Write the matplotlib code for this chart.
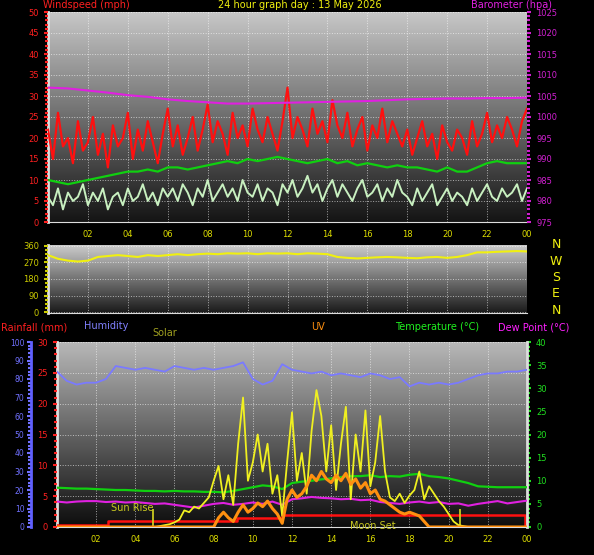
import numpy as np
import matplotlib
matplotlib.use("Agg")
import matplotlib.pyplot as plt
from matplotlib.ticker import MultipleLocator

gust = [22,15,26,18,20,14,24,17,19,25,16,21,13,23,18,20,26,15,22,17,24,19,14,21,
        27,18,23,16,20,25,17,22,28,19,24,21,16,26,20,23,18,27,22,19,25,21,17,24,
        32,20,25,22,18,27,21,24,19,29,23,20,26,18,22,25,17,23,20,27,19,24,21,18,
        22,16,20,24,18,21,15,23,19,17,22,20,16,24,18,21,26,19,23,20,25,22,18,24,27]
speed = [6,4,8,3,7,5,6,9,4,7,5,8,3,6,7,4,8,5,6,9,5,7,4,8,
         6,8,5,9,7,4,8,6,10,5,7,9,6,8,5,10,7,6,9,5,8,7,4,9,
         7,10,6,8,11,7,9,5,8,10,6,9,7,5,8,10,6,7,9,5,8,6,10,7,
         6,4,8,5,7,9,4,6,8,5,7,6,4,8,5,7,9,6,5,8,6,7,9,5,8]
avg = [10,9.5,9,9.5,10,10.5,11,11.5,12,12,12.5,12,13,13,12.5,13,13.5,14,14.5,14,
       15,14.5,15,15.5,15,14.5,14,14.5,15,14,14.5,13.5,14,13.5,13,13.5,13,13,12.5,12,
       13,12,12,13,14,14.5,14,14,14]
baro = [1007,1006.8,1006.3,1005.8,1005.2,1004.8,1004.2,1003.8,1003.5,1003.2,1003.2,1003.3,
        1003.4,1003.5,1003.6,1003.7,1003.8,1004,1004.2,1004.3,1004.4,1004.4,1004.5,1004.5,1004.6]
wdir = [310,290,280,275,280,300,305,310,305,300,310,305,310,315,310,315,318,315,320,318,
        320,315,320,318,320,315,320,318,315,300,295,292,295,298,300,298,295,293,298,300,
        295,300,310,325,325,328,330,332,330]
hum = [84,79,77,78,78,80,87,86,85,86,85,84,87,86,85,86,85,86,87,89,80,77,79,88,85,
       84,83,84,82,83,82,81,83,82,80,81,76,78,77,78,77,78,80,82,83,83,84,84,85]
temp = [8.5,8.4,8.3,8.3,8.2,8.1,8.0,8.0,7.9,7.8,7.8,7.7,7.8,7.7,7.7,7.6,7.6,7.5,7.8,8.2,
        8.6,9.0,8.8,8.2,9.5,9.8,10.0,10.3,10.5,10.8,11.0,11.0,11.2,10.8,11.0,10.9,11.3,11.5,
        11.0,10.8,10.5,10.0,9.5,8.8,8.7,8.6,8.6,8.6,8.6]
dew = [5.5,5.3,5.5,5.6,5.6,5.4,5.5,5.3,5.4,5.2,5.0,5.1,4.8,4.5,4.2,4.6,5.0,5.2,4.8,5.0,
       5.3,5.0,5.5,4.8,6.0,6.2,6.5,6.3,6.2,6.0,6.1,5.8,5.9,5.4,5.2,5.0,5.3,5.5,5.2,5.4,
       5.0,5.1,4.6,5.0,5.3,5.6,5.1,5.4,5.7]
solar = [0,0,0,0,0,0,0,0,0,0,0,0,0,0,0,0,0,0,0,0,
         0,5,10,15,25,40,90,80,110,100,130,160,250,330,150,280,120,450,700,250,
         350,500,300,450,180,280,60,350,620,250,400,180,520,740,600,300,550,200,450,650,
         150,500,300,630,220,350,600,300,160,140,180,130,170,200,300,150,220,180,140,110,
         70,30,10,5,0,
         0,0,0,0,0,0,0,0,0,0,0,0]
uv = [0,0,0,0,0,0,0,0,0,0,0,0,0,0,0,0,0,0,0,0,0,0,0,0,0,0,0,0,0,0,0,0,0,
      0.5,0.8,0.5,0.3,0.8,1.2,0.8,1.0,1.3,1.1,1.4,1.0,0.7,0.2,1.5,2.0,1.6,1.8,2.2,2.8,
      2.5,3.0,2.6,2.4,2.8,2.5,2.9,2.3,2.6,2.1,2.4,1.8,2.0,1.5,1.4,1.2,1.0,0.8,0.7,0.8,
      0.7,0.6,0.3,
      0,0,0,0,0,0,0,0,0,0,0,0,0,0,0,0,0,0,0,0,0]
rain_t = [0, 2.6, 9.2, 11.5, 23.9, 24]
rain_v = [0.3, 0.9, 1.4, 1.9, 0, 0]
events_t = [4.9, 20.6]
hour_ticks = list(range(2, 25, 2))
hour_labels = ["%02d" % (h % 24) for h in hour_ticks]

t97 = np.linspace(0, 24, 97)
t49 = np.linspace(0, 24, 49)
t25 = np.linspace(0, 24, 25)

fig = plt.figure(figsize=(5.94, 5.55), dpi=100, facecolor="black")
W, H = 594, 555
def axpos(x0, y0, x1, y1):
    return [x0 / W, 1 - y1 / H, (x1 - x0) / W, (y1 - y0) / H]

grad = np.linspace(0, 1, 256).reshape(-1, 1)
def bg(ax, top, bot):
    vals = bot + (top - bot) * grad
    rgb = np.repeat(vals[:, :, None], 3, axis=2)
    ax.imshow(rgb, extent=[0, 1, 0, 1], transform=ax.transAxes, aspect="auto",
              origin="lower", zorder=0)

def style(ax):
    ax.set_facecolor("black")
    for s in ax.spines.values():
        s.set_visible(False)
    ax.spines["left"].set_visible(True)
    ax.spines["left"].set_color("#dddddd")
    ax.spines["left"].set_linewidth(2)
    ax.spines["bottom"].set_visible(True)
    ax.spines["bottom"].set_color("#dddddd")
    ax.grid(True, color="white", linestyle=":", linewidth=0.7, alpha=0.6)
    ax.set_axisbelow(False)

# ---- top panel
ax1 = fig.add_axes(axpos(48, 12, 527, 222))
style(ax1)
bg(ax1, 0.78, 0.08)
ax1.set_xlim(0, 24)
ax1.set_ylim(0, 50)
ax1.plot(t97, gust, color="#ff1010", lw=1.6, zorder=3)
ax1.plot(t97, speed, color="#c8f0c0", lw=1.4, zorder=4)
ax1.plot(t49, avg, color="#10d010", lw=1.6, zorder=5)
ax1b = ax1.twinx()
ax1b.set_ylim(975, 1025)
for s in ax1b.spines.values():
    s.set_visible(False)
ax1b.plot(t25, baro, color="#e020e0", lw=1.5, zorder=6)
ax1.set_xticks(hour_ticks)
ax1.set_xticklabels(hour_labels)
ax1.set_yticks(range(0, 51, 5))
ax1.yaxis.set_minor_locator(MultipleLocator(1))
ax1.tick_params(axis="y", colors="#ff2020", labelsize=6, length=3, width=1.5)
ax1.tick_params(axis="y", which="minor", colors="#ff2020", length=2, width=1.5)
ax1.tick_params(axis="x", colors="#dddd00", labelsize=6, length=0, pad=6)
ax1b.set_yticks(range(975, 1026, 5))
ax1b.yaxis.set_minor_locator(MultipleLocator(1))
ax1b.tick_params(axis="y", colors="#d020d0", labelsize=6, length=3, width=1.5)
ax1b.tick_params(axis="y", which="minor", colors="#d020d0", length=2, width=1.5)

# ---- middle panel
ax2 = fig.add_axes(axpos(48, 245, 527, 313))
style(ax2)
bg(ax2, 0.8, 0.1)
ax2.set_xlim(0, 24)
ax2.set_ylim(-5, 365)
ax2.plot(t49, wdir, color="#f0f010", lw=1.5, zorder=3)
ax2.set_yticks([0, 90, 180, 270, 360])
ax2.yaxis.set_minor_locator(MultipleLocator(22.5))
ax2.set_xticks(hour_ticks)
ax2.set_xticklabels([])
ax2.tick_params(axis="y", colors="#cccc00", labelsize=6, length=3, width=1.5)
ax2.tick_params(axis="y", which="minor", colors="#cccc00", length=2, width=1.5)
ax2.tick_params(axis="x", length=0)
for i, lab in enumerate(["N", "W", "S", "E", "N"]):
    fig.text(556 / W, 1 - (245 + i * 16.3) / H, lab, color="#f0f010", fontsize=9,
             ha="center", va="center")

# ---- bottom panel
ax3 = fig.add_axes(axpos(57, 342, 527, 527))
style(ax3)
bg(ax3, 0.72, 0.05)
ax3.set_xlim(0, 24)
ax3.set_ylim(0, 30)
ax3.set_yticks(range(0, 31, 5))
ax3.yaxis.set_minor_locator(MultipleLocator(1))
ax3.tick_params(axis="y", colors="#ff2020", labelsize=6, length=3, width=1.5)
ax3.tick_params(axis="y", which="minor", colors="#ff2020", length=2, width=1.5)
ax3.set_xticks(hour_ticks)
ax3.set_xticklabels(hour_labels)
ax3.tick_params(axis="x", colors="#dddd00", labelsize=6, length=0, pad=6)

axT = ax3.twinx()
axT.set_ylim(0, 40)
for s in axT.spines.values():
    s.set_visible(False)
axT.spines["right"].set_visible(True)
axT.spines["right"].set_color("#dddddd")
axT.spines["right"].set_linewidth(2)
axT.set_yticks(range(0, 41, 5))
axT.yaxis.set_minor_locator(MultipleLocator(1))
axT.tick_params(axis="y", colors="#20e020", labelsize=6, length=3, width=1.5)
axT.tick_params(axis="y", which="minor", colors="#20e020", length=2, width=1.5)

axS = ax3.twinx(); axS.set_ylim(0, 1000); axS.axis("off")
axU = ax3.twinx(); axU.set_ylim(0, 10); axU.axis("off")
axH = ax3.twinx(); axH.set_ylim(0, 100)
for s in axH.spines.values():
    s.set_visible(False)
axH.spines["left"].set_visible(True)
axH.spines["left"].set_position(("outward", 19))
axH.spines["left"].set_color("#6060ff")
axH.spines["left"].set_linewidth(2)
axH.yaxis.set_ticks_position("left")
axH.yaxis.set_label_position("left")
axH.set_yticks(range(0, 101, 10))
axH.yaxis.set_minor_locator(MultipleLocator(2))
axH.tick_params(axis="y", colors="#7070ff", labelsize=5.5, length=3, width=1.5, pad=1.5)
axH.tick_params(axis="y", which="minor", colors="#7070ff", length=2, width=1.5)

axS.plot(t97, solar, color="#f0f020", lw=1.3, zorder=3)
axS.vlines(events_t, 0, 95, color="#d8d820", lw=1.2)
axU.plot(t97, uv, color="#ff9010", lw=2.2, zorder=4)
axT.plot(t49, temp, color="#10d010", lw=1.6, zorder=5)
axT.plot(t49, dew, color="#e020e0", lw=1.5, zorder=5)
axH.plot(t49, hum, color="#7a7aff", lw=1.3, zorder=5)
ax3.plot(rain_t, rain_v, color="#ff1010", lw=1.8, drawstyle="steps-post", zorder=6)

fig.text(132 / W, 1 - 508 / H, "Sun Rise", color="#c8c820", fontsize=7, ha="center", va="center")
fig.text(373 / W, 1 - 526 / H, "Moon Set", color="#c8c820", fontsize=7, ha="center", va="center")

# ---- titles
fs = 7
fig.text(43 / W, 1 - 5 / H, "Windspeed (mph)", color="#ff2020", fontsize=fs, ha="left", va="center")
fig.text(218 / W, 1 - 5 / H, "24 hour graph day : 13 May 2026", color="#f0f010", fontsize=fs, ha="left", va="center")
fig.text(471 / W, 1 - 5 / H, "Barometer (hpa)", color="#e020e0", fontsize=fs, ha="left", va="center")
fig.text(1 / W, 1 - 327 / H, "Rainfall (mm)", color="#ff2020", fontsize=fs, ha="left", va="center")
fig.text(84 / W, 1 - 326 / H, "Humidity", color="#8080ff", fontsize=fs, ha="left", va="center")
fig.text(152 / W, 1 - 333 / H, "Solar", color="#a0a020", fontsize=fs, ha="left", va="center")
fig.text(318 / W, 1 - 327 / H, "UV", color="#ff9010", fontsize=fs, ha="center", va="center")
fig.text(395 / W, 1 - 327 / H, "Temperature (°C)", color="#20f020", fontsize=fs, ha="left", va="center")
fig.text(498 / W, 1 - 327 / H, "Dew Point (°C)", color="#ff20ff", fontsize=fs, ha="left", va="center")

fig.savefig("out.png", dpi=100, facecolor="black")
